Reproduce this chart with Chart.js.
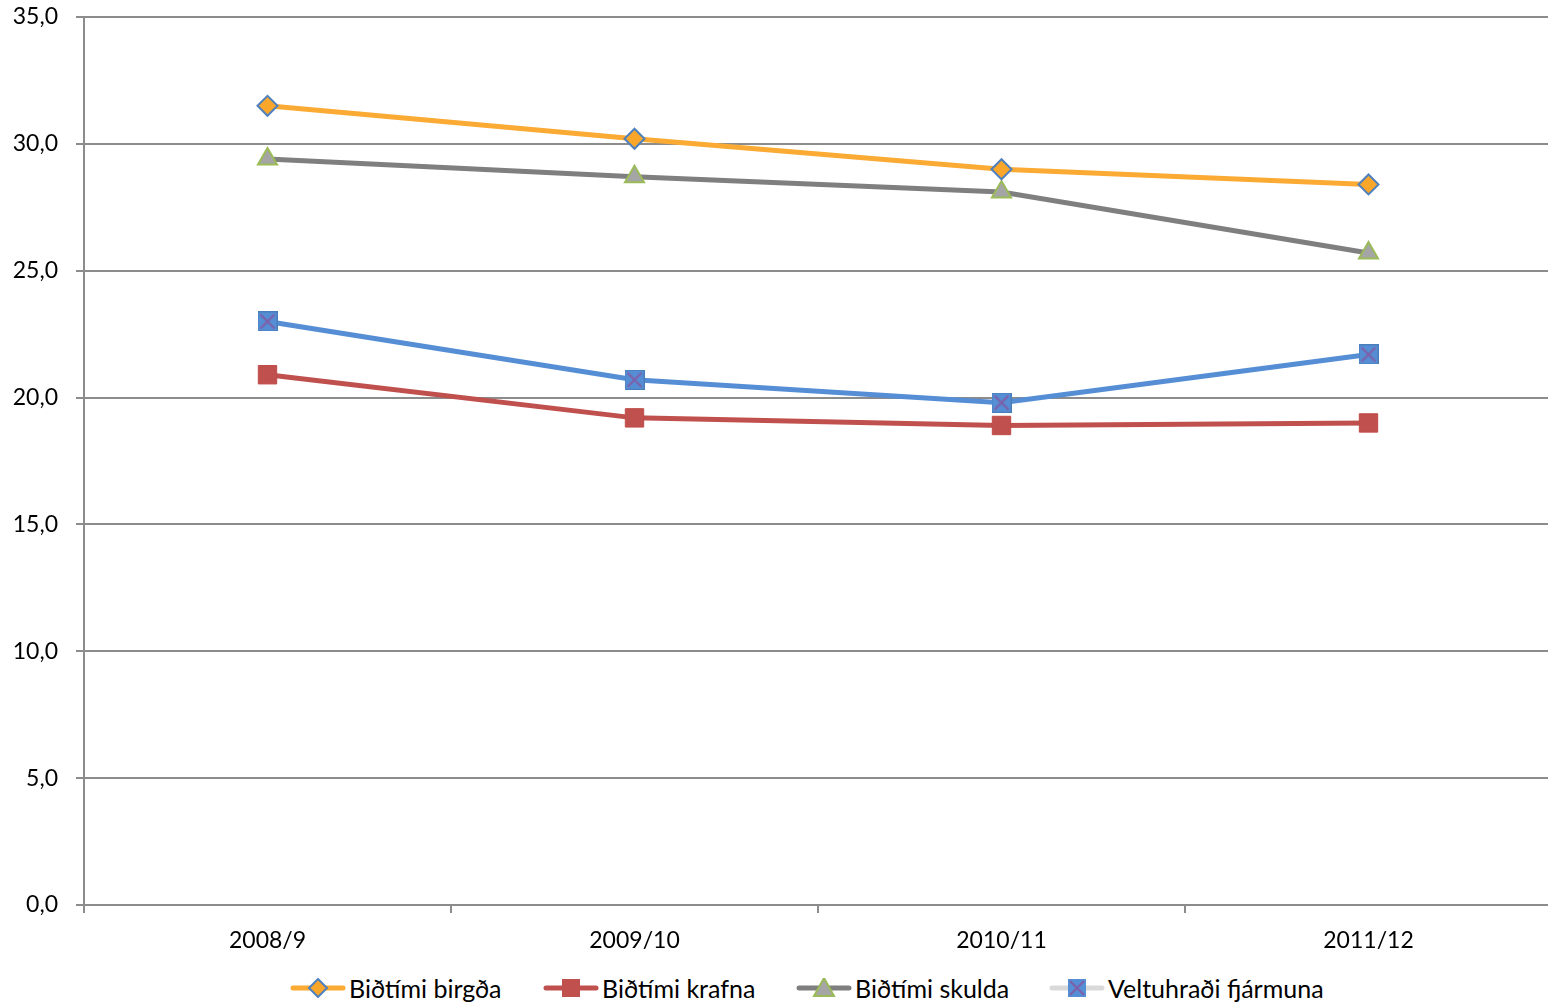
<!DOCTYPE html>
<html lang="is">
<head>
<meta charset="UTF-8">
<title>Biðtími og veltuhraði</title>
<script src="https://cdn.jsdelivr.net/npm/chart.js"></script>
<style>
    html, body { margin: 0; padding: 0; background: #fff; overflow: hidden; }
    body { width: 1548px; height: 1005px; position: relative; font-family: Lato, 'Noto Sans', sans-serif; }
    #chartWrap { position: absolute; left: 0; top: 0; width: 1567px; height: 965px; }
    #legend { position: absolute; left: 290px; top: 973px; display: flex; }
    .item { width: 253px; display: flex; align-items: center; font-size: 25px; color: #000; white-space: nowrap; }
    .item svg { margin-right: 3px; flex: none; }
</style>
</head>
<body>

<div id="chartWrap"><canvas id="chart" width="1567" height="965"></canvas></div>
<div id="legend"></div>

<script>
// Data
const categories = ['2008/9', '2009/10', '2010/11', '2011/12'];
const seriesNames = ['Biðtími birgða', 'Biðtími krafna', 'Biðtími skulda', 'Veltuhraði fjármuna'];
const birgda = [31.5, 30.2, 29.0, 28.4];
const krafna = [20.9, 19.2, 18.9, 19.0];
const skulda = [29.4, 28.7, 28.1, 25.7];
const veltuhradi = [23.0, 20.7, 19.8, 21.7];
const yMin = 0, yMax = 35, yStep = 5;

// blue square with a purple cross (Excel marker)
function crossSquare(size) {
    const c = document.createElement('canvas');
    c.width = size; c.height = size;
    const g = c.getContext('2d');
    g.fillStyle = '#558ED5';
    g.fillRect(0, 0, size, size);
    g.strokeStyle = '#4A7EBB';
    g.lineWidth = 1;
    g.strokeRect(0.5, 0.5, size - 1, size - 1);
    g.strokeStyle = '#7F5FA8';
    g.lineWidth = 2;
    g.beginPath();
    g.moveTo(3, 3); g.lineTo(size - 3, size - 3);
    g.moveTo(size - 3, 3); g.lineTo(3, size - 3);
    g.stroke();
    return c;
}

const fmt = v => v.toFixed(1).replace('.', ',');

new Chart(document.getElementById('chart'), {
    type: 'line',
    data: {
        labels: categories,
        datasets: [
            {
                label: seriesNames[0], data: birgda,
                borderColor: '#FBAA33', borderWidth: 5,
                pointStyle: 'rectRot', pointRadius: 10,
                pointBackgroundColor: '#F9A62B', pointBorderColor: '#4F81BD', pointBorderWidth: 2
            },
            {
                label: seriesNames[1], data: krafna,
                borderColor: '#C0504D', borderWidth: 5,
                pointStyle: 'rect', pointRadius: 13,
                pointBackgroundColor: '#C0504D', pointBorderColor: '#BE4B48', pointBorderWidth: 1
            },
            {
                label: seriesNames[2], data: skulda,
                borderColor: '#7F7F7F', borderWidth: 5,
                pointStyle: 'triangle', pointRadius: 11,
                pointBackgroundColor: '#A5A5A5', pointBorderColor: '#9BBB59', pointBorderWidth: 2
            },
            {
                label: seriesNames[3], data: veltuhradi,
                borderColor: '#558ED5', borderWidth: 5,
                pointStyle: crossSquare(20), pointRadius: 10
            }
        ]
    },
    options: {
        responsive: false,
        animation: false,
        devicePixelRatio: 1,
        layout: { padding: { top: 17, right: 8, left: 0, bottom: 0 } },
        plugins: { legend: { display: false }, tooltip: { enabled: false } },
        elements: { line: { tension: 0 } },
        scales: {
            x: {
                offset: true,
                grid: { offset: true, drawOnChartArea: false, drawTicks: true, tickLength: 8, color: '#8C8C8C', lineWidth: 2 },
                border: { color: '#8C8C8C', width: 2 },
                ticks: { color: '#000', font: { family: 'Lato', size: 23 }, padding: 14, maxRotation: 0 },
                afterFit: s => { s.height = 60; s.paddingLeft = 0; s.paddingRight = 0; }
            },
            y: {
                min: yMin, max: yMax,
                grid: { color: '#8C8C8C', lineWidth: 2, tickLength: 8 },
                border: { color: '#8C8C8C', width: 2 },
                ticks: { stepSize: yStep, color: '#000', font: { family: 'Lato', size: 23 }, padding: 18, callback: v => fmt(v) },
                afterFit: s => { s.width = 84; s.paddingTop = 0; s.paddingBottom = 0; }
            }
        }
    }
});

// Legend (line + marker, as in the original)
const legendLine = ['#FBAA33', '#C0504D', '#7F7F7F', '#D9D9D9'];
const legendMarker = [
    '<polygon points="28,1 37,10 28,19 19,10" fill="#F9A62B" stroke="#4F81BD" stroke-width="2"/>',
    '<rect x="19" y="1" width="18" height="18" fill="#C0504D"/>',
    '<polygon points="28,0 38,18 18,18" fill="#A5A5A5" stroke="#9BBB59" stroke-width="2"/>',
    '<rect x="19" y="1" width="18" height="18" fill="#558ED5"/><path d="M21 3 L35 17 M35 3 L21 17" stroke="#7F5FA8" stroke-width="2"/>'
];
const legend = document.getElementById('legend');
seriesNames.forEach((name, i) => {
    const div = document.createElement('div');
    div.className = 'item';
    div.innerHTML = '<svg width="56" height="20" viewBox="0 0 56 20">' +
        '<line x1="3" y1="10" x2="53" y2="10" stroke="' + legendLine[i] + '" stroke-width="5" stroke-linecap="round"/>' +
        legendMarker[i] + '</svg><span>' + name + '</span>';
    legend.appendChild(div);
});
</script>

</body>
</html>
